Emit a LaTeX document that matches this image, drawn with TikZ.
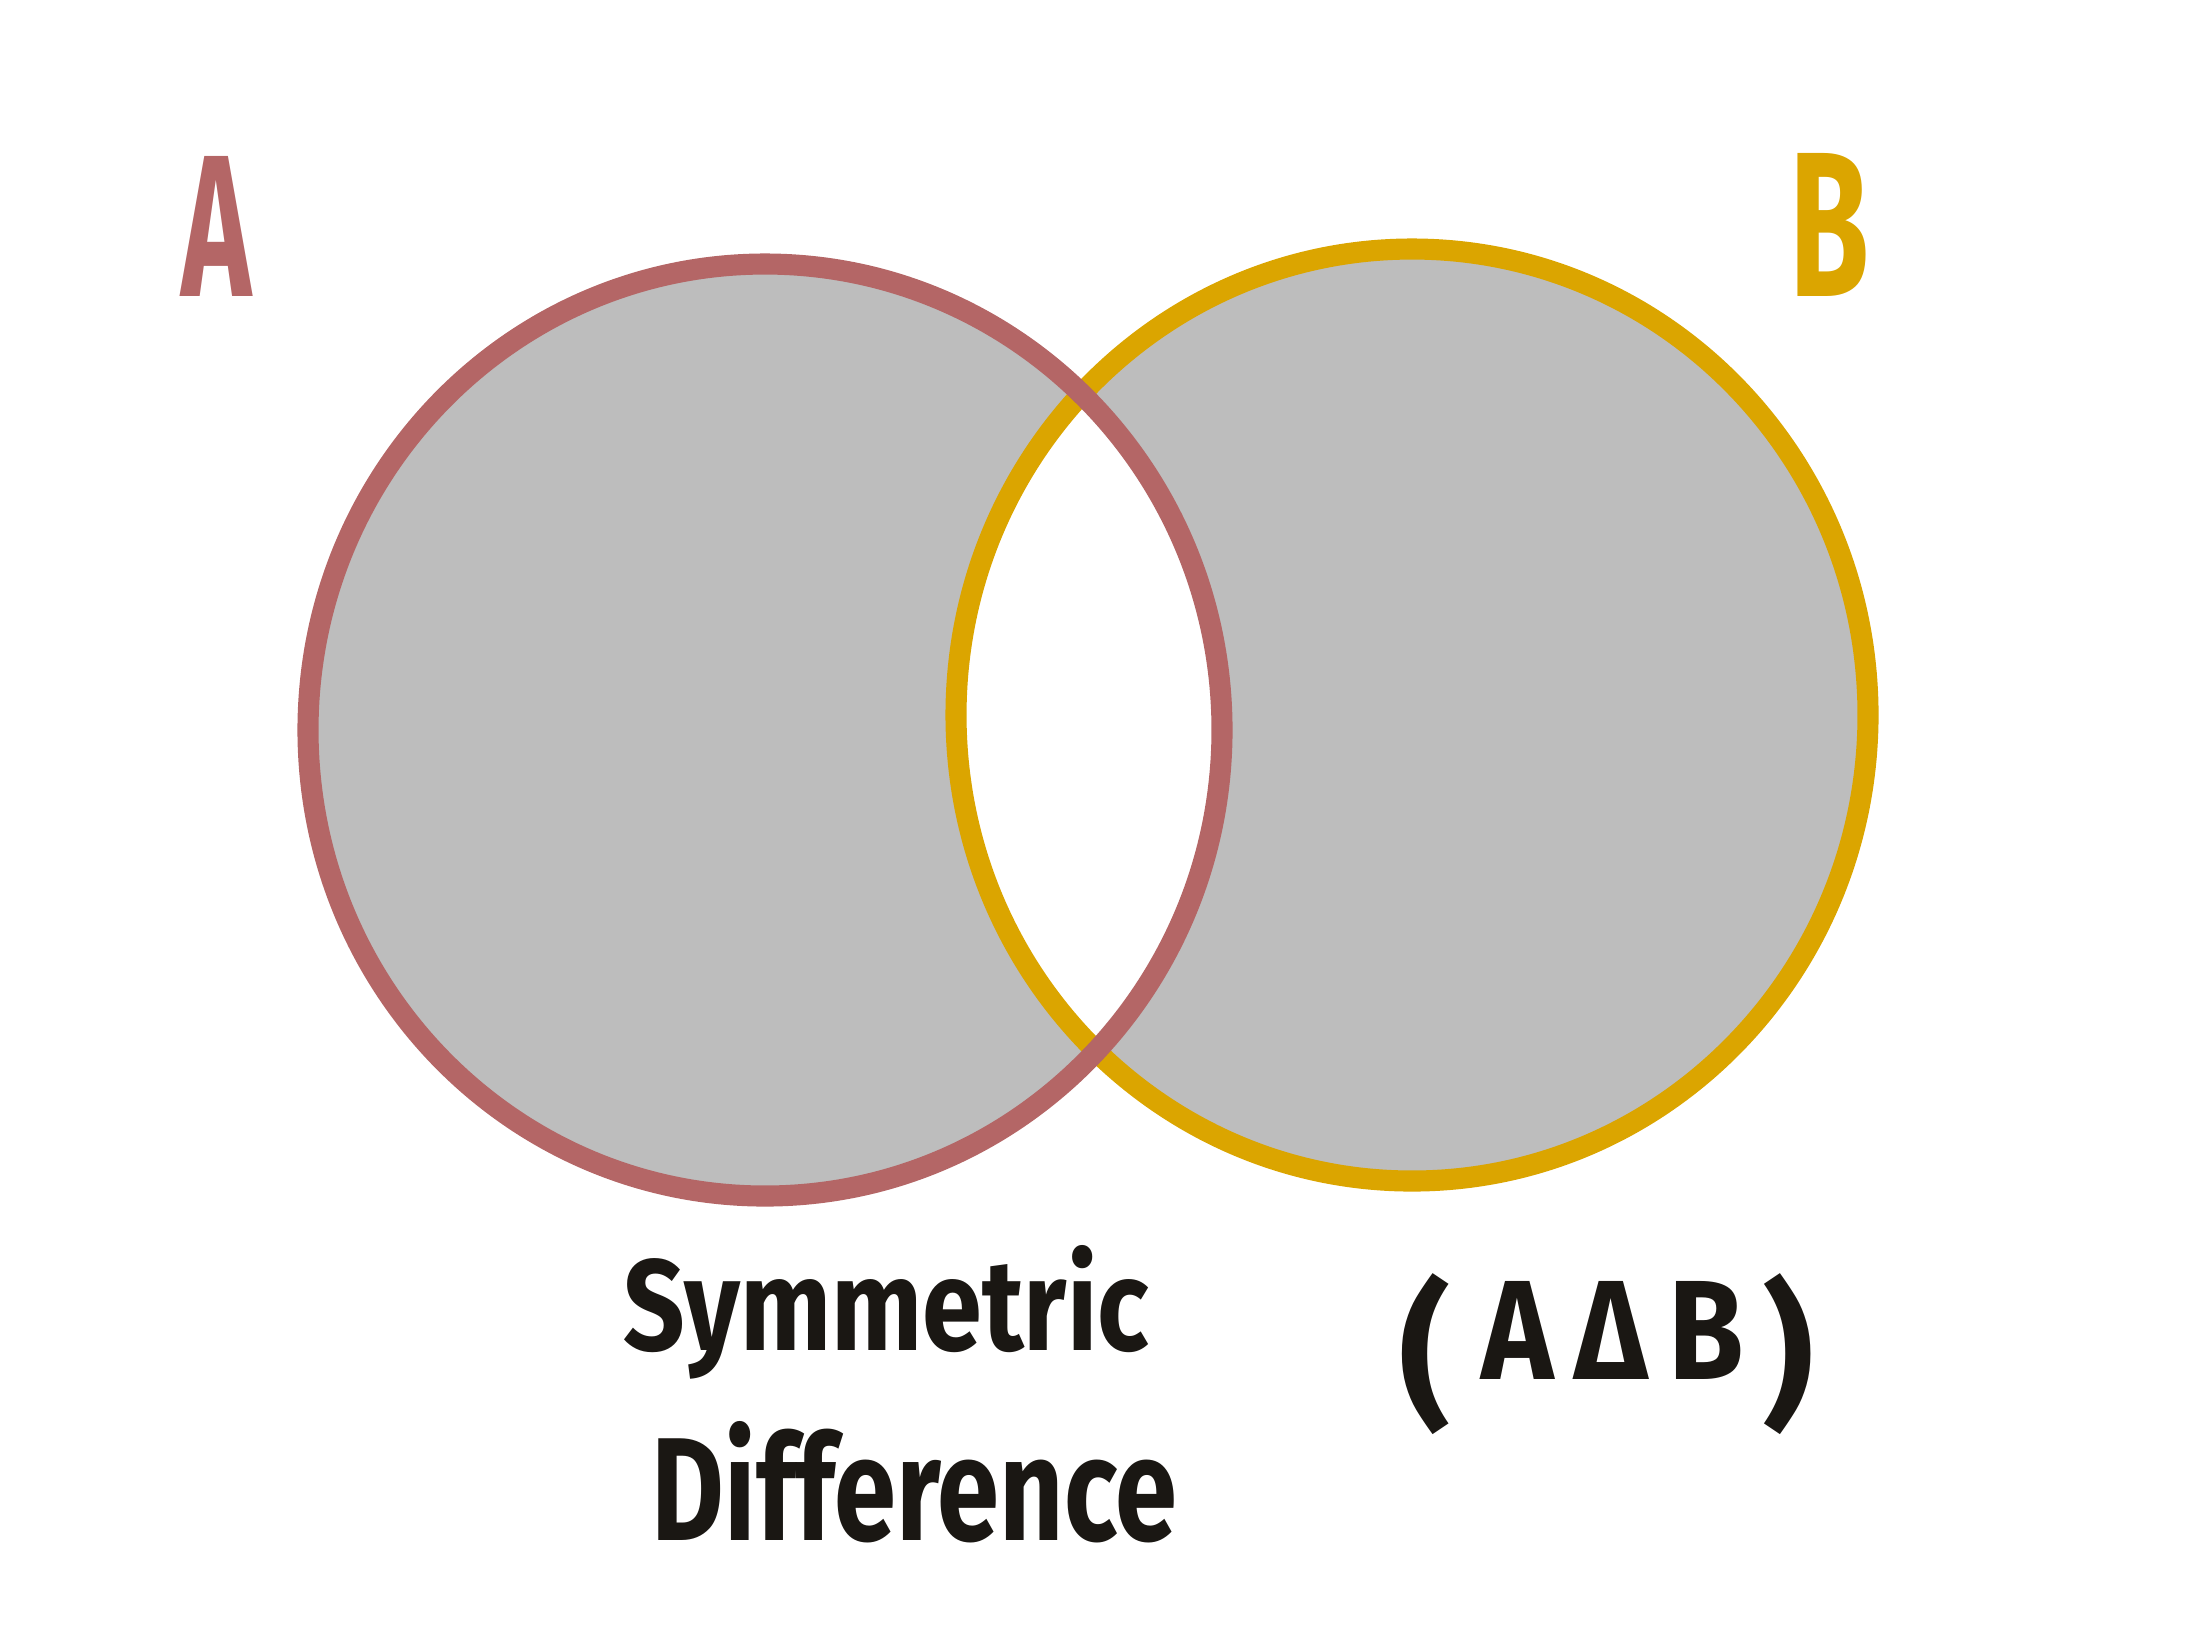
\documentclass[tikz,border=0pt]{standalone}
\usepackage{fontspec}
\setmainfont{Fira Sans}
\usepackage{graphicx}
\definecolor{setA}{HTML}{B46666}
\definecolor{setB}{HTML}{DBA500}
\definecolor{grayfill}{HTML}{BDBDBD}
\definecolor{ink}{HTML}{1A1713}
\begin{document}
\begin{tikzpicture}[x=0.01cm,y=-0.01cm,
  ringA/.style={draw=setA,line width=6pt},
  ringB/.style={draw=setB,line width=6pt},
  hand/.style={inner sep=0pt,text=ink,font=\bfseries}]
\useasboundingbox (0,0) rectangle (2195,1635);
\def\pathA{(765,730) ellipse [x radius=457, y radius=466]}
\def\pathB{(1412,715) ellipse [x radius=456, y radius=466]}
\fill[grayfill] \pathA;
\fill[grayfill] \pathB;
\begin{scope}
  \clip \pathA;
  \fill[white] \pathB;
\end{scope}
\draw[ringB] \pathB;
\draw[ringA] \pathA;
\node[hand,text=setA,anchor=south] (labA) at (217,297) {\resizebox{0.7cm}{1.4cm}{A}};
\node[hand,text=setB,anchor=south] (labB) at (1829,297) {\resizebox{0.8cm}{1.43cm}{B}};
\node[hand,anchor=base west] (sym) at (623,1350) {\resizebox{5.25cm}{1.05cm}{Symmetric}};
\node[hand,anchor=base west] (dif) at (651,1540) {\resizebox{5.25cm}{1.19cm}{Difference}};
\node[hand,anchor=base west] (adb) at (1481,1379) {\resizebox{2.62cm}{0.98cm}{A\,Δ\,B}};
\node[hand,anchor=center] (lp) at (1425,1354) {\resizebox*{!}{1.61cm}{(}};
\node[hand,anchor=center] (rp) at (1788,1354) {\resizebox*{!}{1.61cm}{)}};
\end{tikzpicture}
\end{document}
